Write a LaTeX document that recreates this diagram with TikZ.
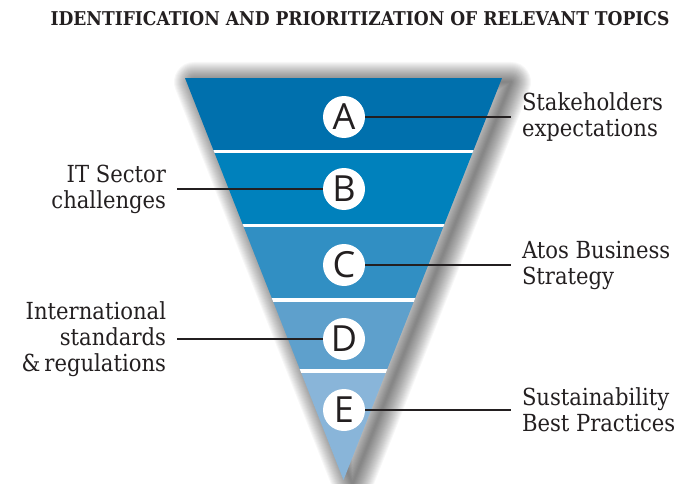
\documentclass[tikz,border=0pt]{standalone}
\usepackage{fontspec}
\setmainfont{DejaVu Serif Condensed}
\newfontfamily\titlefont{DejaVu Serif Condensed}
\newfontfamily\letterfont{Open Sans}
\definecolor{bandA}{RGB}{0,112,173}
\definecolor{bandB}{RGB}{0,129,188}
\definecolor{bandC}{RGB}{49,143,195}
\definecolor{bandD}{RGB}{94,160,204}
\definecolor{bandE}{RGB}{137,181,217}
\definecolor{ink}{RGB}{35,31,32}
\tikzset{
  letter/.style={circle,fill=white,minimum size=42,inner sep=0,text=ink,
    font=\letterfont\fontsize{36}{36}\selectfont},
  rtext/.style={anchor=west,align=left,inner sep=0,outer xsep=11,text=ink,
    font=\fontsize{23.5}{26}\selectfont},
  ltext/.style={anchor=east,align=right,inner sep=0,outer xsep=11,text=ink,
    font=\fontsize{23.5}{26}\selectfont},
  link/.style={draw=ink,line width=1.3}
}
\begin{document}
\begin{tikzpicture}[x=1pt,y=-1pt]
\useasboundingbox (0,0) rectangle (682,484);
\node[text=ink,font=\titlefont\bfseries\fontsize{19}{19}\selectfont] (title) at (360,18.5)
  {IDENTIFICATION AND PRIORITIZATION OF RELEVANT TOPICS};
% shadow of the funnel
\foreach \w in {2,4,...,40}
  \draw[black,opacity=0.03,line width=\w,line join=round] (194,82)--(511,82)--(352.5,484)--cycle;
% funnel bands
\begin{scope}
  \clip (185,78)--(502,78)--(343.5,480)--cycle;
  \foreach \top/\bot/\col in {78/151.5/bandA,151.5/225.5/bandB,225.5/300/bandC,300/371/bandD,371/480/bandE}
    \fill[\col] (150,\top) rectangle (540,\bot);
  \foreach \y in {151.5,225.5,300,371}
    \draw[white,line width=3.5] (150,\y)--(540,\y);
\end{scope}
% letters
\node[letter] (a) at (344,117) {A};
\node[letter] (b) at (344,189) {B};
\node[letter] (c) at (344,265) {C};
\node[letter] (d) at (344,339) {D};
\node[letter] (e) at (344,410) {E};
% labels
\node[rtext] (sh) at (511,117) {Stakeholders\\expectations};
\node[ltext] (it) at (177,189) {IT Sector\\challenges};
\node[rtext] (atos) at (511,265) {Atos Business\\Strategy};
\node[ltext] (std) at (177,339) {International\\standards\\\&\,regulations};
\node[rtext] (sus) at (511,410) {Sustainability\\Best Practices};
\draw[link] (a)--(sh);
\draw[link] (b)--(it);
\draw[link] (c)--(atos);
\draw[link] (d)--(std);
\draw[link] (e)--(sus);
\end{tikzpicture}
\end{document}
